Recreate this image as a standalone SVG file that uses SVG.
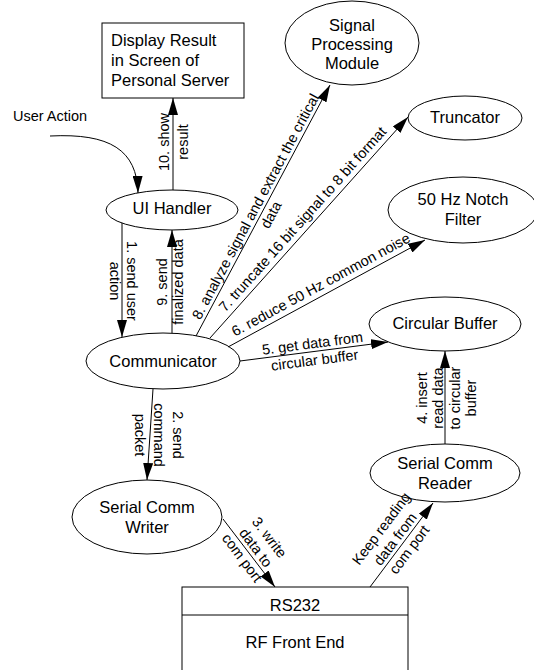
<svg xmlns="http://www.w3.org/2000/svg" width="534" height="670" viewBox="0 0 534 670">
<style>
.node{fill:#fff;stroke:#000;stroke-width:1}
.nt{font-family:"Liberation Sans",Arial,sans-serif;font-size:16.5px;fill:#000;text-anchor:middle}
.ntl{font-family:"Liberation Sans",Arial,sans-serif;font-size:16.5px;fill:#000}
.lbl{font-family:"Liberation Sans",Arial,sans-serif;font-size:14.5px;fill:#000;text-anchor:middle}
.con{fill:none;stroke:#000;stroke-width:1;marker-end:url(#ah)}
</style>
<defs>
<marker id="ah" markerWidth="17" markerHeight="10" refX="17" refY="5" orient="auto" markerUnits="userSpaceOnUse"><path d="M0,0 L17,5 L0,10 z" fill="#000"/></marker>
</defs>
<rect width="534" height="670" fill="#fff"/>

<g id="display">
<rect class="node" x="102" y="23" width="142" height="75"/>
<text class="ntl" x="111" y="46">Display Result</text>
<text class="ntl" x="111" y="66">in Screen of</text>
<text class="ntl" x="111" y="86">Personal Server</text>
</g>
<g id="spm">
<ellipse class="node" cx="352" cy="43" rx="67" ry="42"/>
<text class="nt" x="352" y="31">Signal</text>
<text class="nt" x="352" y="50">Processing</text>
<text class="nt" x="352" y="69">Module</text>
</g>
<g id="truncator">
<ellipse class="node" cx="465" cy="118" rx="57" ry="22"/>
<text class="nt" x="465" y="123">Truncator</text>
</g>
<g id="notch">
<ellipse class="node" cx="463" cy="210" rx="75" ry="33"/>
<text class="nt" x="463" y="205">50 Hz Notch</text>
<text class="nt" x="463" y="225">Filter</text>
</g>
<g id="uihandler">
<ellipse class="node" cx="172" cy="210" rx="66" ry="20"/>
<text class="nt" x="172" y="214">UI Handler</text>
</g>
<g id="communicator">
<ellipse class="node" cx="163" cy="361" rx="77" ry="28"/>
<text class="nt" x="163" y="367">Communicator</text>
</g>
<g id="circbuf">
<ellipse class="node" cx="445" cy="324" rx="76" ry="27"/>
<text class="nt" x="445" y="329">Circular Buffer</text>
</g>
<g id="writer">
<ellipse class="node" cx="147" cy="517" rx="75" ry="37"/>
<text class="nt" x="147" y="513">Serial Comm</text>
<text class="nt" x="147" y="533">Writer</text>
</g>
<g id="reader">
<ellipse class="node" cx="445" cy="473" rx="75" ry="29"/>
<text class="nt" x="445" y="469">Serial Comm</text>
<text class="nt" x="445" y="489">Reader</text>
</g>
<g id="rs232">
<rect class="node" x="182" y="587" width="226" height="100"/>
<line x1="182" y1="615" x2="408" y2="615" stroke="#000" stroke-width="1"/>
<text class="nt" x="295" y="611">RS232</text>
<text class="nt" x="295" y="648">RF Front End</text>
</g>
<g id="useraction">
<text class="lbl" x="13" y="121" style="text-anchor:start">User Action</text>
</g>

<g id="connectors">
<path class="con" d="M50,136 C110,133 137,150 138,193"/>
<line class="con" x1="173" y1="190" x2="173" y2="98"/>
<line class="con" x1="122" y1="223" x2="122" y2="337"/>
<line class="con" x1="172" y1="333" x2="172" y2="230"/>
<line class="con" x1="153" y1="389" x2="147" y2="480"/>
<line class="con" x1="223" y1="519" x2="275" y2="587"/>
<line class="con" x1="370" y1="587" x2="433" y2="503"/>
<line class="con" x1="445" y1="444" x2="445" y2="351"/>
<line class="con" x1="240" y1="361" x2="388" y2="342"/>
<line class="con" x1="228" y1="347" x2="425" y2="240"/>
<line class="con" x1="210" y1="338" x2="408" y2="117"/>
<line class="con" x1="196" y1="336" x2="330" y2="85"/>

<g transform="translate(173,142) rotate(-90)"><text class="lbl"><tspan x="0" y="-4.3">10. show</tspan><tspan x="0" y="14.7">result</tspan></text></g>
<g transform="translate(123.5,281) rotate(90)"><text class="lbl"><tspan x="0" y="-3.3">1. send user</tspan><tspan x="0" y="13.7">action</tspan></text></g>
<g transform="translate(170,282) rotate(-90)"><text class="lbl"><tspan x="0" y="-2.8">9. send</tspan><tspan x="0" y="13.2">finalized data</tspan></text></g>
<g transform="translate(159,435) rotate(90)"><text class="lbl"><tspan x="0" y="-13.8">2. send</tspan><tspan x="0" y="5.2">command</tspan><tspan x="0" y="24.2">packet</tspan></text></g>
<g transform="translate(256,547.5) rotate(53)"><text class="lbl"><tspan x="0" y="-11.8">3. write</tspan><tspan x="0" y="5.2">data to</tspan><tspan x="0" y="22.2">com port</tspan></text></g>
<g transform="translate(395,539) rotate(-53)"><text class="lbl"><tspan x="0" y="-12.3">Keep reading</tspan><tspan x="0" y="5.2">data from</tspan><tspan x="0" y="22.7">com port</tspan></text></g>
<g transform="translate(446.5,398) rotate(-90)"><text class="lbl"><tspan x="0" y="-19.55">4. insert</tspan><tspan x="0" y="-3.05">read data</tspan><tspan x="0" y="13.45">to circular</tspan><tspan x="0" y="29.95">buffer</tspan></text></g>
<g transform="translate(313.5,351.5) rotate(-7.4)"><text class="lbl"><tspan x="0" y="-3.3">5. get data from</tspan><tspan x="0" y="13.7">circular buffer</tspan></text></g>
<g transform="translate(320.6,284.4) rotate(-28.5)"><text class="lbl" x="0" y="5.2">6. reduce 50 Hz common noise</text></g>
<g transform="translate(302.3,219) rotate(-48.1)"><text class="lbl" x="0" y="5.2">7. truncate 16 bit signal to 8 bit format</text></g>
<g transform="translate(263,210.5) rotate(-61.9)"><text class="lbl"><tspan x="0" y="-3.55">8. analyze signal and extract the critical</tspan><tspan x="0" y="13.95">data</tspan></text></g>
</g>
</svg>
